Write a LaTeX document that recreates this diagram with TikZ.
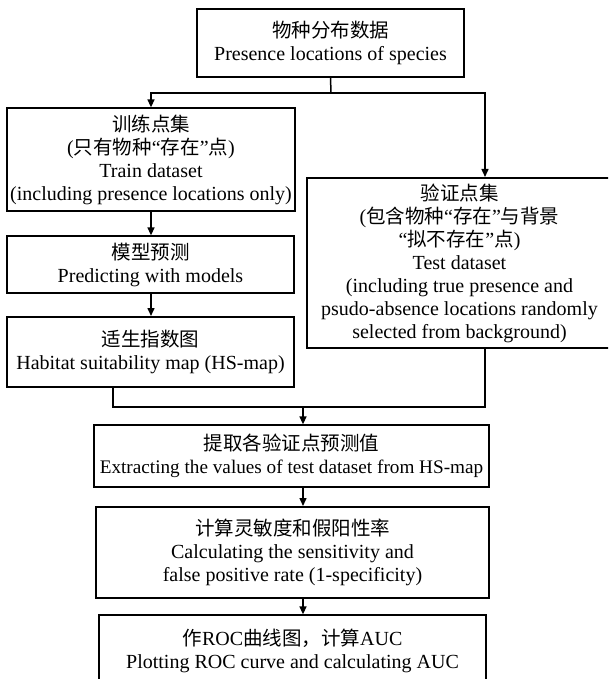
\documentclass[tikz,border=0pt]{standalone}
\usepackage{fontspec}
\setmainfont{Liberation Serif}
\newfontfamily\cjk{Noto Sans CJK SC}
\usetikzlibrary{arrows.meta}
\newcommand\zh[1]{{\cjk\fontsize{19.5}{23}\selectfont #1}}
\tikzset{
  box/.style={draw, line width=1.3pt, inner sep=0pt, align=center,
    font=\fontsize{20}{23}\selectfont},
  boldbox/.style={box, line width=2pt},
  conn/.style={line width=1.5pt},
  arr/.style={conn, -{Triangle[length=8pt,width=7pt]}}
}
\begin{document}
\begin{tikzpicture}[x=1pt,y=-1pt]
\useasboundingbox (0,0) rectangle (608,679);
\clip (0,0) rectangle (608,679);

\node[box, minimum width=267pt, minimum height=68pt] (b1) at (330.5,43)
  {\zh{物种分布数据}\\Presence locations of species};
\node[box, minimum width=288pt, minimum height=103pt] (b2) at (151,159.5)
  {\zh{训练点集}\\(\zh{只有物种}“\zh{存在}”\zh{点})\\Train dataset\\(including presence locations only)};
\node[box, minimum width=287pt, minimum height=57pt] (b3) at (150.5,264.5)
  {\zh{模型预测}\\Predicting with models};
\node[boldbox, minimum width=287pt, minimum height=70pt] (b4) at (150.5,352)
  {\zh{适生指数图}\\Habitat suitability map (HS-map)};
\node[boldbox, minimum width=305pt, minimum height=170pt] (b8) at (459.5,263)
  {\zh{验证点集}\\(\zh{包含物种}“\zh{存在}”\zh{与背景}\\“\zh{拟不存在}”\zh{点})\\Test dataset\\(including true presence and\\psudo-absence locations randomly\\selected from background)};
\node[box, minimum width=395pt, minimum height=62pt] (b5) at (291.5,456)
  {\zh{提取各验证点预测值}\\{\fontsize{19.2}{23}\selectfont Extracting the values of test dataset from HS-map}};
\node[boldbox, minimum width=393pt, minimum height=91pt] (b6) at (292.5,552.5)
  {\zh{计算灵敏度和假阳性率}\\Calculating the sensitivity and\\false positive rate (1-specificity)};
\node[box, minimum width=387pt, minimum height=72pt] (b7) at (292.5,651)
  {\zh{作}ROC\zh{曲线图，计算}AUC\\Plotting ROC curve and calculating AUC};

\coordinate (j1) at (331,93);
\coordinate (xr) at (485,0);
\coordinate (xl) at (113,0);
\coordinate (xm) at (151,0);
\coordinate (j2) at (303,407);

\draw[conn] (b1.south) -- (j1);
\draw[arr] (j1) -| (b2.north -| xm);
\draw[arr] (j1) -| (b8.north -| xr);
\draw[arr] (b2.south -| xm) -- (b3.north -| xm);
\draw[arr] (b3.south -| xm) -- (b4.north -| xm);
\draw[conn] (b4.south -| xl) |- (j2) -| (b8.south -| xr);
\draw[arr] (j2) -- (b5.north -| j2);
\draw[arr] (b5.south -| j2) -- (b6.north -| j2);
\draw[arr] (b6.south -| j2) -- (b7.north -| j2);
\end{tikzpicture}
\end{document}
